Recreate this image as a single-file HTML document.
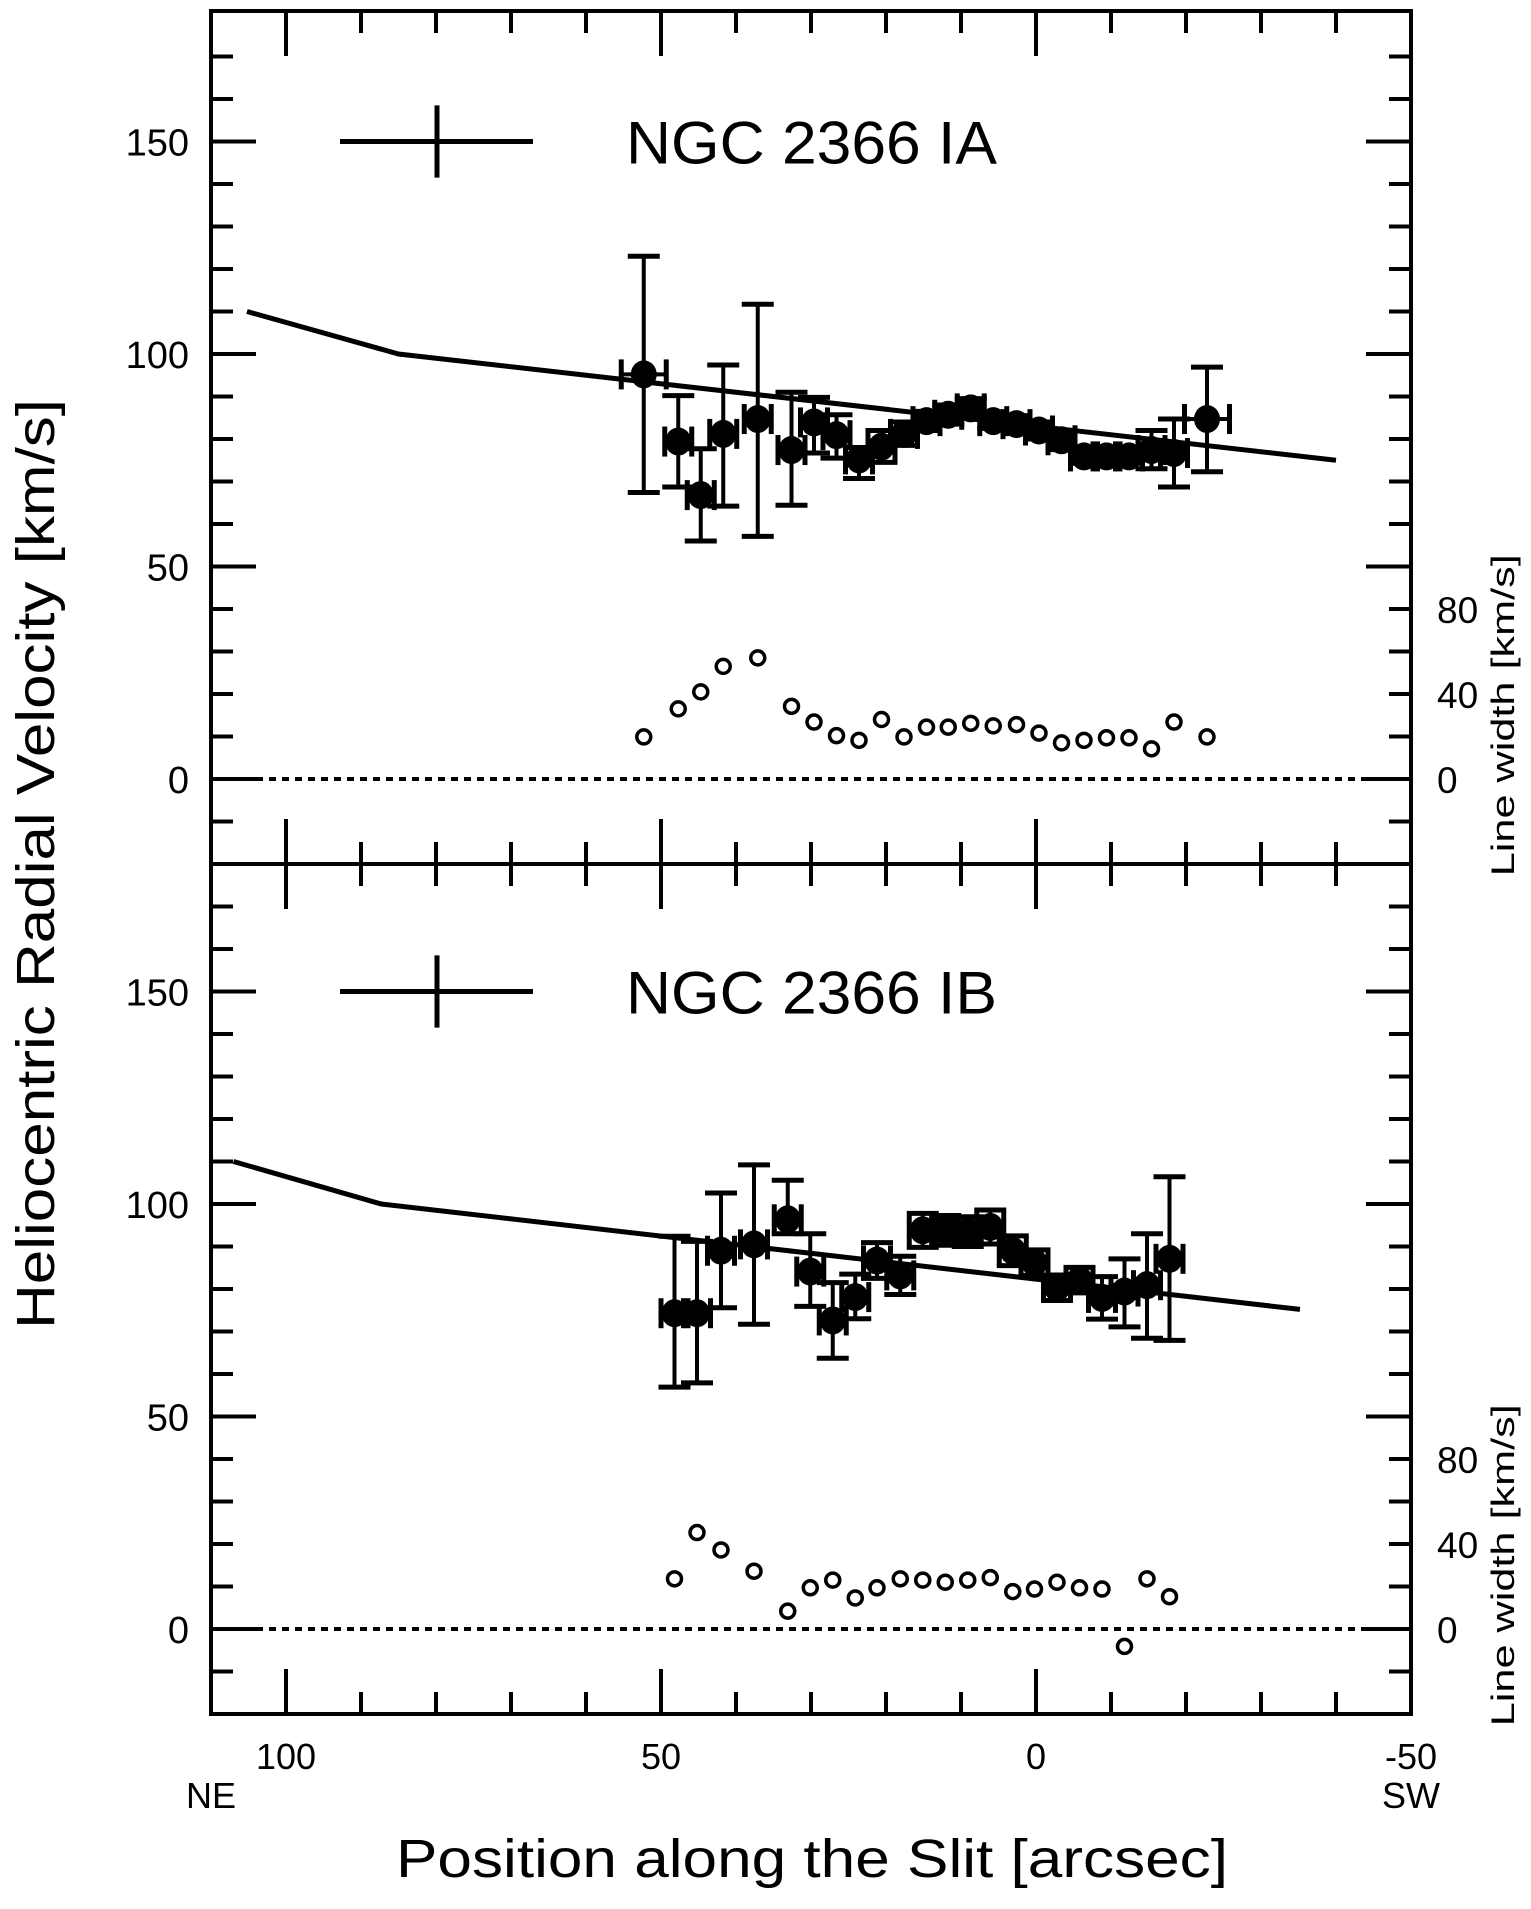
<!DOCTYPE html>
<html><head><meta charset="utf-8"><style>
html,body{margin:0;padding:0;background:#fff;}
svg{display:block;}
text{font-family:"Liberation Sans",sans-serif;fill:#000;}
</style></head><body>
<svg id="chart" width="1531" height="1909" viewBox="0 0 1531 1909" xmlns="http://www.w3.org/2000/svg"></svg>
<script>
// ---- data ----
const posA = [52.3,47.7,44.7,41.7,37.1,32.6,29.6,26.6,23.6,20.6,17.6,14.6,11.7,8.7,5.7,2.6,-0.4,-3.4,-6.4,-9.4,-12.4,-15.4,-18.4,-22.8];
const velA = [95.2,79.4,66.8,81.2,84.7,77.4,83.9,80.9,75.2,78.2,81.2,84.2,85.7,87.2,84.2,83.5,82,79.7,75.9,75.9,75.9,77.4,76.7,84.7];
const errHiA = [123,90.2,77.7,97.4,111.7,91,89.8,85.7,78,82,84,86.5,88,89.5,86,85.5,84,82,77.5,77.5,77.5,82,84.7,96.9];
const errLoA = [67.4,68.7,56,64.2,57.1,64.4,76.7,75.5,70.7,74.5,78.5,82,83.5,85,82.5,81.5,80,77.5,74.3,74.3,74.3,73,68.7,72.3];
const xerrA = [3,1.8,1.8,1.8,1.8,1.8,1.8,1.8,1.8,1.8,1.8,1.8,1.8,1.8,1.8,1.8,1.8,1.8,1.8,1.8,1.8,1.8,1.8,3];
const lwA = [19.8,33,41,53,57,34.2,26.8,20.4,18.2,28,19.8,24.4,24.4,26.2,25,25.6,21.6,17,18.2,19.4,19.4,14.2,26.8,19.8];
const modelPosA = [105.2,85,-40];
const modelVelA = [110,100,75];

const posB = [48.2,45.2,42.0,37.6,33.1,30.1,27.1,24.1,21.2,18.1,15.1,12.1,9.1,6.1,3.1,0.2,-2.8,-5.8,-8.8,-11.8,-14.8,-17.8];
const velB = [74.3,74.3,89,90.5,96.4,84.1,72.6,78.1,86.7,83.2,93.8,93.8,93.5,94.6,89,86.2,80.3,82.1,77.9,79.4,80.9,87.1];
const errHiB = [92.4,91.2,102.6,109.2,105.6,93,81.5,83.5,90.9,87.7,97.8,97.3,97,98.6,92.5,89.2,83.3,85.1,82.9,87.1,93,106.4];
const errLoB = [56.9,57.9,75.6,71.7,93,75.9,63.7,73,82.5,78.7,89.8,90.3,90,90.6,85.5,83.2,77.3,79.1,72.9,71.1,68.4,67.9];
const xerrB = [1.8,1.8,1.8,1.8,1.8,1.8,1.8,1.8,1.8,1.8,1.8,1.8,1.8,1.8,1.8,1.8,1.8,1.8,1.8,1.8,1.8,1.8];
const lwB = [23.6,45.4,37.2,27.2,8.4,19.4,23,14.6,19.4,23.6,23,22,23,24.2,17.6,18.8,22,19.4,18.8,-8.2,23.6,15.2];
const modelPosB = [107,87.3,-35.2];
const modelVelB = [110,100,75.2];

const yTicksMajor = [0,50,100,150];
const xTicksMajor = [100,50,0,-50];
const lwTicks = [0,40,80];

// ---- layout ----
const NS = "http://www.w3.org/2000/svg";
const svg = document.getElementById('chart');
const L = 211, R = 1411;
const X0 = 110, X1 = -50;
const xs = p => L + (X0 - p) * (R - L) / (X0 - X1);
const panels = [
  {top: 11, zero: 779, bottom: 864, name: 'IA', pos: posA, vel: velA, hi: errHiA, lo: errLoA, xe: xerrA, lw: lwA, mp: modelPosA, mv: modelVelA},
  {top: 864, zero: 1629, bottom: 1714, name: 'IB', pos: posB, vel: velB, hi: errHiB, lo: errLoB, xe: xerrB, lw: lwB, mp: modelPosB, mv: modelVelB}
];
const K = 4.25;

function mk(tag, attrs, parent) {
  const e = document.createElementNS(NS, tag);
  for (const k in attrs) e.setAttribute(k, attrs[k]);
  (parent || svg).appendChild(e);
  return e;
}
function line(x1, y1, x2, y2, w, g) {
  return mk('line', {x1, y1, x2, y2, stroke: '#000', 'stroke-width': w}, g);
}

panels.forEach((P, pi) => {
  const ys = v => P.zero - v * K;
  const g = mk('g', {});
  
  

  for (let v = -10; v <= 170; v += 10) {
    const y = ys(v);
    const major = v % 50 === 0;
    const len = major ? 45 : 22;
    line(L, y, L + len, y, 4, g);
    line(R - len, y, R, y, 4, g);
  }
  for (let p = 100; p >= -40; p -= 10) {
    const x = xs(p);
    const len = (p % 50 === 0) ? 45 : 22;
    line(x, P.top, x, P.top + len, 4, g);
    line(x, P.bottom - len, x, P.bottom, 4, g);
  }
  mk('line', {x1: L + 45, y1: P.zero, x2: R - 45, y2: P.zero, stroke: '#000', 'stroke-width': 4, 'stroke-dasharray': '7 6'}, g);

  yTicksMajor.forEach(v => {
    const t = mk('text', {x: 189, y: ys(v) + 14, 'font-size': 38, 'text-anchor': 'end'}, g);
    t.textContent = v;
    
    
  });
  lwTicks.forEach(w => {
    const t = mk('text', {x: 1437, y: ys(w / 2) + 14, 'font-size': 37}, g);
    t.textContent = w;
    
    
  });
  const rt = mk('text', {x: 0, y: 0, 'font-size': 32, 'text-anchor': 'middle', transform: `translate(1514 ${ys(15)}) rotate(-90)`, textLength: 322, lengthAdjust: 'spacingAndGlyphs'}, g);
  rt.textContent = 'Line width [km/s]';
  
  

  const pts = P.mp.map((p, i) => xs(p) + ',' + ys(P.mv[i])).join(' ');
  const ml = mk('polyline', {points: pts, fill: 'none', stroke: '#000', 'stroke-width': 5}, g);
  
  

  P.pos.forEach((p, i) => {
    const x = xs(p), y = ys(P.vel[i]);
    const pg = mk('g', {}, g);
    
    
    const yh = ys(P.hi[i]), yl = ys(P.lo[i]);
    line(x, yh, x, yl, 4, pg);
    line(x - 16, yh, x + 16, yh, 5, pg);
    line(x - 16, yl, x + 16, yl, 5, pg);
    const xa = xs(p + P.xe[i]), xb = xs(p - P.xe[i]);
    line(xa, y, xb, y, 4, pg);
    line(xa, y - 15, xa, y + 15, 5, pg);
    line(xb, y - 15, xb, y + 15, 5, pg);
    mk('ellipse', {cx: x, cy: y, rx: 13, ry: 14, fill: '#000'}, pg);
    const c = mk('circle', {cx: x, cy: ys(P.lw[i] / 2), r: 7, fill: 'none', stroke: '#000', 'stroke-width': 3.5}, g);
    
    
  });

  const lg = mk('g', {}, g);
  
  
  line(340, ys(150), 533, ys(150), 5, lg);
  line(437, ys(158.5), 437, ys(141.5), 5, lg);
  const lt = mk('text', {x: 626, y: ys(150) + 22, 'font-size': 60, textLength: 371, lengthAdjust: 'spacingAndGlyphs'}, lg);
  lt.textContent = 'NGC 2366 ' + P.name;
});

const fr = mk('rect', {x: L, y: 11, width: R - L, height: 1714 - 11, fill: 'none', stroke: '#000', 'stroke-width': 4});


line(L, 864, R, 864, 4);

xTicksMajor.forEach(p => {
  const t = mk('text', {x: xs(p), y: 1769, 'font-size': 36, 'text-anchor': 'middle'});
  t.textContent = p;
  
  
});
const ne = mk('text', {x: 211, y: 1808, 'font-size': 36, 'text-anchor': 'middle'});
ne.textContent = 'NE';


const sw = mk('text', {x: 1411, y: 1808, 'font-size': 36, 'text-anchor': 'middle'});
sw.textContent = 'SW';



const xt = mk('text', {x: 812, y: 1877, 'font-size': 54, 'text-anchor': 'middle', textLength: 832, lengthAdjust: 'spacingAndGlyphs'});
xt.textContent = 'Position along the Slit [arcsec]';



const yt = mk('text', {x: 0, y: 0, 'font-size': 54, 'text-anchor': 'middle', transform: 'translate(54 864) rotate(-90)', textLength: 930, lengthAdjust: 'spacingAndGlyphs'});
yt.textContent = 'Heliocentric Radial Velocity [km/s]';


</script>
</body></html>
